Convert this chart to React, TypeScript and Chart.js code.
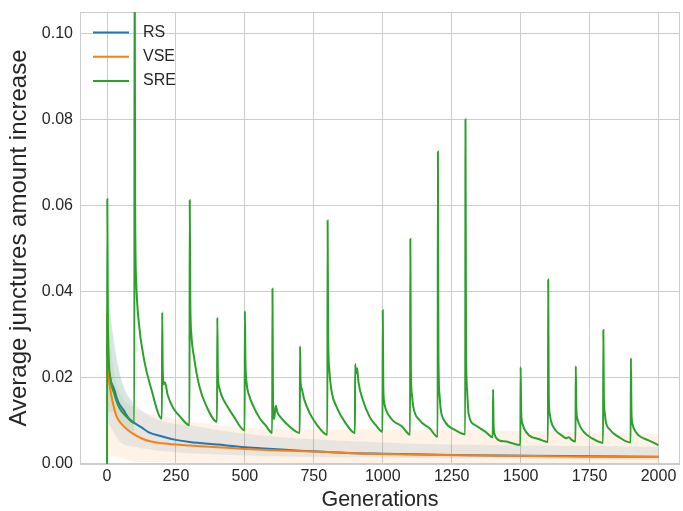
import React, { useEffect, useRef } from "react";
import { Chart, registerables } from "chart.js";
Chart.register(...registerables);

const xTicks = [0, 250, 500, 750, 1000, 1250, 1500, 1750, 2000];
const yTicks = [0, 0.02, 0.04, 0.06, 0.08, 0.1];
const seriesNames = ["RS", "VSE", "SRE"];
const seriesColors = ["#1f77b4", "#ff7f0e", "#2ca02c"];

const rsData: [number, number][] = [
  [0, 0.028], [3, 0.024], [8, 0.021], [15, 0.019], [25, 0.0175], [40, 0.0145], [60, 0.0125],
  [80, 0.0105], [100, 0.0095], [125, 0.0085], [150, 0.0074], [200, 0.0064], [250, 0.0056],
  [300, 0.0051], [400, 0.0045], [500, 0.0039], [600, 0.0035], [700, 0.0031], [800, 0.0028],
  [900, 0.0025], [1000, 0.0024], [1250, 0.0021], [1500, 0.0019], [1750, 0.0018], [2000, 0.0017],
];

const vseData: [number, number][] = [
  [0, 0.035], [2, 0.026], [5, 0.021], [10, 0.018], [20, 0.0145], [35, 0.011], [50, 0.0095],
  [70, 0.0082], [100, 0.0068], [130, 0.0058], [160, 0.0052], [200, 0.0048], [250, 0.0045],
  [300, 0.0043], [400, 0.0039], [500, 0.0035], [600, 0.0032], [750, 0.0029], [900, 0.0025],
  [1000, 0.0023], [1200, 0.0021], [1500, 0.0019], [1750, 0.0017], [2000, 0.0016],
];

const sreData: [number, number][] = [
  [0, 0], [1, 0.0615], [3, 0.035], [6, 0.025], [12, 0.02], [25, 0.0165], [45, 0.013], [70, 0.011], [99, 0.0095],
  [100, 0.13], [102, 0.06], [106, 0.042], [115, 0.033], [135, 0.024], [160, 0.0175], [199, 0.0105],
  [200, 0.0352], [202, 0.022], [206, 0.0185], [210, 0.019], [220, 0.016], [240, 0.013], [265, 0.011], [299, 0.009],
  [300, 0.0612], [302, 0.038], [306, 0.03], [315, 0.025], [335, 0.018], [360, 0.0135], [399, 0.0098],
  [400, 0.034], [402, 0.021], [406, 0.018], [415, 0.016], [435, 0.0135], [460, 0.011], [499, 0.0078],
  [500, 0.0355], [502, 0.024], [506, 0.019], [515, 0.016], [530, 0.0135], [555, 0.0105], [575, 0.009], [599, 0.0072],
  [600, 0.0407], [602, 0.015], [606, 0.0105], [612, 0.0135], [618, 0.012], [630, 0.0108], [660, 0.0088], [699, 0.0072],
  [700, 0.0273], [702, 0.019], [706, 0.0175], [715, 0.015], [735, 0.0118], [760, 0.0092], [799, 0.0068],
  [800, 0.0565], [802, 0.03], [806, 0.022], [814, 0.017], [832, 0.0133], [865, 0.0095], [899, 0.0072],
  [900, 0.0232], [903, 0.021], [907, 0.0222], [912, 0.019], [928, 0.0148], [952, 0.011], [975, 0.009], [999, 0.0075],
  [1000, 0.0357], [1002, 0.018], [1006, 0.014], [1012, 0.0125], [1035, 0.0102], [1070, 0.0087], [1099, 0.0068],
  [1100, 0.0522], [1102, 0.022], [1106, 0.016], [1110, 0.0135], [1133, 0.0102], [1170, 0.0083], [1199, 0.0063],
  [1200, 0.0725], [1202, 0.025], [1206, 0.016], [1210, 0.0128], [1226, 0.0098], [1262, 0.0079], [1299, 0.0069],
  [1300, 0.08], [1302, 0.028], [1306, 0.017], [1311, 0.0118], [1336, 0.009], [1372, 0.0075], [1399, 0.0062],
  [1400, 0.0173], [1402, 0.009], [1406, 0.0068], [1412, 0.006], [1425, 0.0054], [1447, 0.0052], [1470, 0.0048], [1499, 0.0044],
  [1500, 0.0225], [1502, 0.012], [1506, 0.0095], [1512, 0.0083], [1530, 0.0067], [1566, 0.0058], [1599, 0.0051],
  [1600, 0.0428], [1602, 0.016], [1606, 0.0115], [1610, 0.01], [1626, 0.0079], [1650, 0.0066], [1665, 0.006], [1675, 0.0062], [1685, 0.0056], [1699, 0.0052],
  [1700, 0.0227], [1702, 0.013], [1706, 0.0105], [1711, 0.0094], [1728, 0.0075], [1758, 0.006], [1799, 0.0049],
  [1800, 0.0311], [1802, 0.015], [1806, 0.0115], [1808, 0.0102], [1825, 0.0079], [1855, 0.0063], [1899, 0.005],
  [1900, 0.0246], [1902, 0.012], [1906, 0.0092], [1910, 0.0083], [1927, 0.0067], [1964, 0.0055], [1999, 0.0044],
];

// shaded spread bands (lower / upper)
const vseBandLow: [number, number][] = [
  [0, 0.0], [10, 0.002], [50, 0.0015], [100, 0.0005], [300, 0.0003], [1000, 0.0002], [2000, 0.0002],
];
const vseBandHigh: [number, number][] = [
  [0, 0.04], [10, 0.03], [30, 0.02], [60, 0.015], [100, 0.013], [200, 0.011], [400, 0.009],
  [700, 0.008], [1000, 0.008], [1400, 0.0078], [2000, 0.007],
];
const rsBandLow: [number, number][] = [
  [0, 0.01], [50, 0.005], [100, 0.004], [200, 0.003], [500, 0.002], [1000, 0.0015], [2000, 0.001],
];
const rsBandHigh: [number, number][] = [
  [0, 0.04], [50, 0.02], [100, 0.014], [200, 0.01], [300, 0.009], [500, 0.007], [1000, 0.005], [2000, 0.004],
];
const sreBandLow: [number, number][] = [
  [0, 0.0], [5, 0.012], [20, 0.012], [50, 0.009], [99, 0.0075],
];
const sreBandHigh: [number, number][] = [
  [0, 0.04], [5, 0.04], [20, 0.03], [50, 0.02], [99, 0.013],
];

const FONT = "'Liberation Sans', Arial, sans-serif";
const TEXT = "#262626";

const pts = (a: [number, number][]) => a.map(([x, y]) => ({ x, y }));

const frame = {
  id: "frame",
  beforeDatasetsDraw(chart: any) {
    const { ctx, chartArea: a } = chart;
    ctx.save();
    ctx.strokeStyle = "#cccccc";
    ctx.lineWidth = 1;
    ctx.strokeRect(a.left + 0.5, a.top + 0.5, a.right - a.left - 1, a.bottom - a.top - 1);
    ctx.restore();
  },
};

const legendPlugin = {
  id: "insideLegend",
  afterDraw(chart: any) {
    const { ctx, chartArea: a } = chart;
    ctx.save();
    ctx.font = `16px ${FONT}`;
    ctx.textBaseline = "middle";
    ctx.textAlign = "left";
    seriesNames.forEach((name, i) => {
      const y = a.top + 20.5 + i * 24.2;
      ctx.strokeStyle = seriesColors[i];
      ctx.lineWidth = 2;
      ctx.beginPath();
      ctx.moveTo(a.left + 13, y);
      ctx.lineTo(a.left + 49, y);
      ctx.stroke();
      ctx.fillStyle = TEXT;
      ctx.fillText(name, a.left + 63, y);
    });
    ctx.restore();
  },
};

export default function App() {
  const ref = useRef<HTMLCanvasElement>(null);
  useEffect(() => {
    document.body.style.margin = "0";
    const band = (data: [number, number][], color: string, fill: any, order: number) => ({
      data: pts(data),
      borderWidth: 0,
      pointRadius: 0,
      borderColor: "rgba(0,0,0,0)",
      backgroundColor: color,
      cubicInterpolationMode: "monotone",
      fill,
      order,
    });
    const line = (data: [number, number][], color: string, label: string, order: number) => ({
      label,
      data: pts(data),
      borderColor: color,
      backgroundColor: color,
      borderWidth: 2,
      pointRadius: 0,
      cubicInterpolationMode: "monotone",
      fill: false,
      order,
    });
    const chart = new Chart(ref.current!, {
      type: "line",
      data: {
        datasets: [
          band(vseBandLow, "rgba(255,127,14,0.1)", false, 20),
          band(vseBandHigh, "rgba(255,127,14,0.1)", "-1", 20),
          band(rsBandLow, "rgba(31,119,180,0.1)", false, 19),
          band(rsBandHigh, "rgba(31,119,180,0.1)", "-1", 19),
          band(sreBandLow, "rgba(44,160,44,0.1)", false, 18),
          band(sreBandHigh, "rgba(44,160,44,0.1)", "-1", 18),
          line(rsData, seriesColors[0], seriesNames[0], 2),
          line(vseData, seriesColors[1], seriesNames[1], 1),
          line(sreData, seriesColors[2], seriesNames[2], 0),
        ] as any,
      },
      options: {
        animation: false,
        responsive: false,
        devicePixelRatio: 1,
        layout: { padding: { left: 0, right: 3, top: 12, bottom: 0 } },
        plugins: {
          tooltip: { enabled: false },
          legend: { display: false },
        },
        scales: {
          x: {
            type: "linear",
            min: -98,
            max: 2078,
            afterBuildTicks: (s: any) => {
              s.ticks = xTicks.map((v) => ({ value: v }));
            },
            afterFit: (s: any) => {
              s.height = 47;
              s.paddingLeft = 0;
              s.paddingRight = 0;
            },
            ticks: {
              autoSkip: false,
              maxRotation: 0,
              padding: 5,
              color: TEXT,
              font: { size: 16, family: FONT, lineHeight: 1 },
              callback: (v: any) => String(v),
            },
            grid: { color: "#cccccc", drawTicks: false, lineWidth: 1 },
            border: { display: false },
            title: {
              display: true,
              text: "Generations",
              color: TEXT,
              font: { size: 21.5, family: FONT, lineHeight: 1 },
              padding: { top: 0, bottom: 0 },
            },
          },
          y: {
            type: "linear",
            min: 0,
            max: 0.1049,
            afterBuildTicks: (s: any) => {
              s.ticks = yTicks.map((v) => ({ value: v }));
            },
            afterFit: (s: any) => {
              s.width = 80;
              s.paddingTop = 0;
              s.paddingBottom = 0;
            },
            ticks: {
              padding: 7,
              color: TEXT,
              font: { size: 16, family: FONT },
              callback: (v: any) => Number(v).toFixed(2),
            },
            grid: { color: "#cccccc", drawTicks: false, lineWidth: 1 },
            border: { display: false },
            title: {
              display: true,
              text: "Average junctures amount increase",
              color: TEXT,
              font: { size: 24, family: FONT, lineHeight: 1 },
              padding: { top: 7, bottom: 0 },
            },
          },
        },
      } as any,
      plugins: [frame, legendPlugin],
    });
    return () => chart.destroy();
  }, []);
  return <canvas ref={ref} width={683} height={511} style={{ display: "block" }} />;
}
